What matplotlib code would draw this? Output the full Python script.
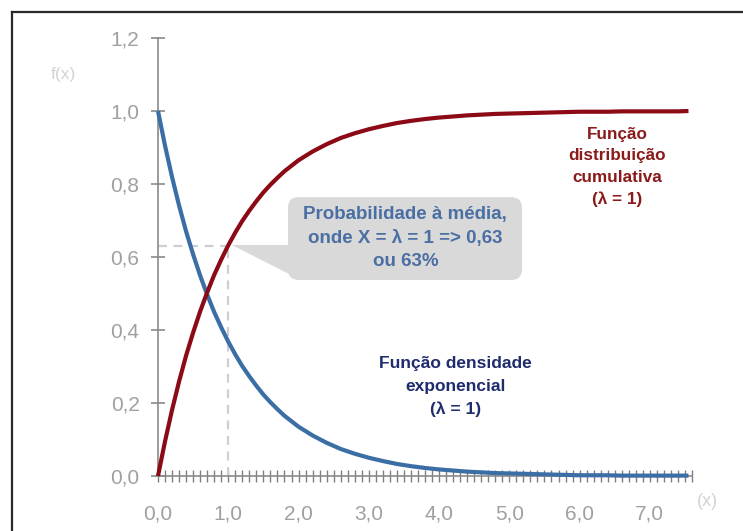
import matplotlib
matplotlib.use("Agg")
import matplotlib.pyplot as plt
from matplotlib.patches import FancyBboxPatch, Polygon
from matplotlib.lines import Line2D
from matplotlib.ticker import MultipleLocator, FixedLocator

# ---- data ----
x_vals = [0.0, 0.1, 0.2, 0.3, 0.4, 0.5, 0.6, 0.7, 0.8, 0.9, 1.0,
          1.1, 1.2, 1.3, 1.4, 1.5, 1.6, 1.7, 1.8, 1.9, 2.0,
          2.2, 2.4, 2.6, 2.8, 3.0, 3.2, 3.4, 3.6, 3.8, 4.0,
          4.2, 4.4, 4.6, 4.8, 5.0, 5.2, 5.4, 5.6, 5.8, 6.0,
          6.2, 6.4, 6.6, 6.8, 7.0, 7.2, 7.4, 7.55]
pdf_vals = [1.000, 0.905, 0.819, 0.741, 0.670, 0.607, 0.549, 0.497, 0.449, 0.407, 0.368,
            0.333, 0.301, 0.273, 0.247, 0.223, 0.202, 0.183, 0.165, 0.150, 0.135,
            0.111, 0.091, 0.074, 0.061, 0.050, 0.041, 0.033, 0.027, 0.022, 0.018,
            0.015, 0.012, 0.010, 0.008, 0.007, 0.006, 0.005, 0.004, 0.003, 0.002,
            0.002, 0.002, 0.001, 0.001, 0.001, 0.001, 0.001, 0.001]
cdf_vals = [0.000, 0.095, 0.181, 0.259, 0.330, 0.393, 0.451, 0.503, 0.551, 0.593, 0.632,
            0.667, 0.699, 0.727, 0.753, 0.777, 0.798, 0.817, 0.835, 0.850, 0.865,
            0.889, 0.909, 0.926, 0.939, 0.950, 0.959, 0.967, 0.973, 0.978, 0.982,
            0.985, 0.988, 0.990, 0.992, 0.993, 0.994, 0.995, 0.996, 0.997, 0.998,
            0.998, 0.998, 0.999, 0.999, 0.999, 0.999, 0.999, 1.000]
mean_x = 1.0
mean_p = 0.63
x_tick_values = [0, 1, 2, 3, 4, 5, 6, 7]
x_tick_labels = ["0,0", "1,0", "2,0", "3,0", "4,0", "5,0", "6,0", "7,0"]
y_tick_values = [0.0, 0.2, 0.4, 0.6, 0.8, 1.0, 1.2]
y_tick_labels = ["0,0", "0,2", "0,4", "0,6", "0,8", "1,0", "1,2"]
cdf_label = "Função\ndistribuição\ncumulativa\n(λ = 1)"
pdf_label = "Função densidade\nexponencial\n(λ = 1)"
callout_label = "Probabilidade à média,\nonde X = λ = 1 => 0,63\nou 63%"

W, H = 743, 531
fig = plt.figure(figsize=(W / 100, H / 100), dpi=100)
fig.patch.set_facecolor("white")

# frame lines (left and top) around the picture
frame_kw = dict(transform=fig.transFigure, color="#2a2a2a", linewidth=1.6)
fig.lines.append(Line2D([12 / W, 12 / W], [0, 1 - 12 / H], **frame_kw))
fig.lines.append(Line2D([12 / W, 1], [1 - 12 / H, 1 - 12 / H], **frame_kw))

left, right, top, bottom = 158, 692, 38, 476
ax = fig.add_axes([left / W, (H - bottom) / H, (right - left) / W, (bottom - top) / H])
ax.set_xlim(0, 7.6)
ax.set_ylim(0, 1.2)
ax.patch.set_alpha(0)

axis_col = "#8a8a8a"
for s in ["top", "right"]:
    ax.spines[s].set_visible(False)
for s in ["left", "bottom"]:
    ax.spines[s].set_color(axis_col)
    ax.spines[s].set_linewidth(1.2)

fam = ["Liberation Sans", "DejaVu Sans"]
ax.yaxis.set_major_locator(FixedLocator(y_tick_values))
ax.set_yticklabels(y_tick_labels, color="#a0a0a0", fontfamily=fam, fontsize=15)
ax.tick_params(axis="y", direction="inout", length=10.5, width=1.2, color=axis_col, pad=8)

ax.xaxis.set_major_locator(FixedLocator(x_tick_values))
ax.set_xticklabels(x_tick_labels, color="#a0a0a0", fontfamily=fam, fontsize=15)
ax.xaxis.set_minor_locator(MultipleLocator(0.1))
ax.tick_params(axis="x", which="both", direction="inout", length=8.5, width=1.0,
               color="#7f7f7f", pad=16)

# dashed guides
ax.plot([0, mean_x], [mean_p, mean_p], color="#cfcfcf", lw=1.6, ls=(0, (4, 3)), zorder=2)
ax.plot([mean_x, mean_x], [0, mean_p], color="#cfcfcf", lw=1.6, ls=(0, (4, 3)), zorder=2)

# callout
box_col = "#d9d9d9"
ax.add_patch(FancyBboxPatch((1.85, 0.537), 3.33, 0.227,
                            boxstyle="round,pad=0,rounding_size=0.15",
                            mutation_aspect=0.1925, facecolor=box_col,
                            edgecolor="none", zorder=2))
ax.add_patch(Polygon([(1.05, 0.633), (1.9, 0.633), (1.95, 0.545)],
                     closed=True, facecolor=box_col, edgecolor="none", zorder=2))
ax.text(3.52, 0.652, callout_label, ha="center", va="center", color="#4b6fa3",
        fontsize=13.5, fontweight="bold", family=fam, linespacing=1.5, zorder=5)

# curves
ax.plot(x_vals, cdf_vals, color="#8b0a16", lw=3.0, solid_capstyle="butt", zorder=4, clip_on=False)
ax.plot(x_vals, pdf_vals, color="#3c6ea6", lw=3.0, solid_capstyle="butt", zorder=3, clip_on=False)

# labels
ax.text(6.53, 0.847, cdf_label, ha="center", va="center", color="#8b1a1a",
        fontsize=12.3, fontweight="bold", family=fam, linespacing=1.55, zorder=5)
ax.text(4.23, 0.245, pdf_label, ha="center", va="center", color="#1f2c6e",
        fontsize=12.5, fontweight="bold", family=fam, linespacing=1.6, zorder=5)

fig.text(63 / W, 1 - 75 / H, "f(x)", ha="center", va="center", color="#d3d3d3",
         fontsize=12.5, family=fam)
fig.text(707 / W, 1 - 501 / H, "(x)", ha="center", va="center", color="#d3d3d3",
         fontsize=13, family=fam)

fig.savefig("out.png", dpi=100)
